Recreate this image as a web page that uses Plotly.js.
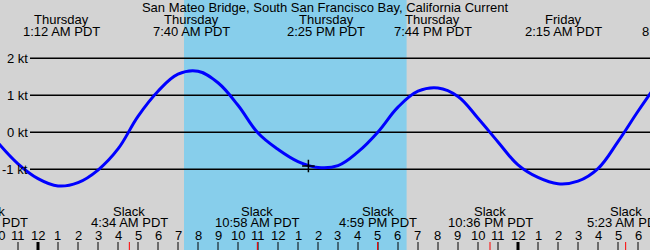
<!DOCTYPE html>
<html>
<head>
<meta charset="utf-8">
<script src="https://cdn.plot.ly/plotly-3.0.1.min.js"></script>
<style>html,body{margin:0;padding:0;background:#d3d3d3;}#chart{width:650px;height:250px;}</style>
</head>
<body>
<div id="chart"></div>
<script>
// Hours are measured from Thursday 00:00 PDT
const curveHours = [-2,-1,0,1,2,3,4,5,6,7,8,9,10,11,12,13,14,15,16,17,18,19,20,21,22,23,24,25,26,27,28,29,30,31];
const curveKnots = [-0.28,-0.85,-1.25,-1.45,-1.36,-1.02,-0.45,0.43,1.11,1.57,1.65,1.34,0.73,-0.02,-0.46,-0.79,-0.95,-0.90,-0.53,0.01,0.68,1.11,1.20,0.97,0.38,-0.26,-0.88,-1.22,-1.39,-1.32,-0.98,-0.25,0.57,1.35];

const extremeTimes = [1.2, 7.667, 14.417, 19.733, 26.25, 32.1];
const extremeDays = ["Thursday","Thursday","Thursday","Thursday","Friday","Friday"];
const extremeLabels = ["1:12 AM PDT","7:40 AM PDT","2:25 PM PDT","7:44 PM PDT","2:15 AM PDT","8:06 AM PDT"];

const slackTimes = [-2.43, 4.567, 10.967, 16.983, 22.6, 29.383];
const slackLabels = ["9:34 PM PDT","4:34 AM PDT","10:58 AM PDT","4:59 PM PDT","10:36 PM PDT","5:23 AM PDT"];

const hourTicks = [-2,-1,0,1,2,3,4,5,6,7,8,9,10,11,12,13,14,15,16,17,18,19,20,21,22,23,24,25,26,27,28,29,30,31];
const hourLabels = ["10","11","12","1","2","3","4","5","6","7","8","9","10","11","12","1","2","3","4","5","6","7","8","9","10","11","12","1","2","3","4","5","6","7"];
const midnights = [0, 24];

const ktLevels = [2, 1, 0, -1];
const ktLabels = ["2 kt","1 kt","0 kt","-1 kt"];

const daylight = [7.3, 18.43];   // sunrise, sunset
const nowTime = [13.52];
const nowValue = [-0.91];

const titleText = "San Mateo Bridge, South San Francisco Bay, California Current";

// ---- layout constants ----
const W = 650, H = 250;
const xr = [-1.9, 30.6];
const yr = [-3.181, 3.576];
const FONT = "Liberation Sans, Arial, sans-serif";
const FS = 13;
const fx = h => (h - xr[0]) / (xr[1] - xr[0]);
const fy = py => 1 - py / H;

const shapes = [];
shapes.push({type:'rect', xref:'x', yref:'paper', x0:daylight[0], x1:daylight[1], y0:0, y1:1,
  fillcolor:'#87ceeb', line:{width:0}, layer:'below'});
ktLevels.forEach(v => shapes.push({type:'line', xref:'paper', yref:'y', x0:30/W, x1:1, y0:v, y1:v,
  line:{color:'#000', width:1.5}, layer:'below'}));
hourTicks.forEach(h => shapes.push({type:'line', xref:'x', yref:'paper', x0:h, x1:h, y0:0, y1:8/H,
  line:{color:'#000', width:1}}));
midnights.forEach(h => shapes.push({type:'line', xref:'x', yref:'paper', x0:h, x1:h, y0:0, y1:8/H,
  line:{color:'#000', width:3}}));
slackTimes.forEach(h => shapes.push({type:'line', xref:'x', yref:'paper', x0:h, x1:h, y0:0, y1:8/H,
  line:{color:'#ff0000', width:1}}));

const ann = [];
const txt = (x, py, text, xanchor) => ({xref:'paper', yref:'paper', x:x, y:fy(py), text:text,
  showarrow:false, xanchor:xanchor||'center', yanchor:'middle', borderpad:0,
  font:{family:FONT, size:FS, color:'#000'}});
extremeTimes.forEach((h,i) => {
  ann.push(txt(fx(h), 19.5, extremeDays[i]));
  ann.push(txt(fx(h), 31, extremeLabels[i]));
});
slackTimes.forEach((h,i) => {
  ann.push(txt(fx(h), 211, "Slack"));
  ann.push(txt(fx(h), 222.5, slackLabels[i]));
});
hourTicks.forEach((h,i) => ann.push(txt(fx(h), 235, hourLabels[i])));
ktLevels.forEach((v,i) => ann.push({xref:'paper', yref:'y', x:28.5/W, y:v, text:ktLabels[i], showarrow:false,
  xanchor:'right', yanchor:'middle', borderpad:0, font:{family:FONT, size:FS, color:'#000'}}));

const traces = [
  {x:curveHours, y:curveKnots, type:'scatter', mode:'lines', line:{color:'#0000ff', width:3, shape:'spline', smoothing:1.1}, hoverinfo:'skip'},
  {x:nowTime, y:nowValue, type:'scatter', mode:'markers', marker:{symbol:'cross-thin', size:9, line:{color:'#000', width:1.5}}, hoverinfo:'skip'}
];

const layout = {
  width:W, height:H, margin:{l:0, r:0, t:0, b:0},
  paper_bgcolor:'#d3d3d3', plot_bgcolor:'#d3d3d3',
  showlegend:false,
  title:{text:titleText, font:{family:FONT, size:FS, color:'#000'}, x:0.5, xanchor:'center', y:fy(7.5), yanchor:'middle', yref:'container'},
  xaxis:{range:xr, visible:false, fixedrange:true},
  yaxis:{range:yr, visible:false, fixedrange:true},
  shapes:shapes, annotations:ann
};

Plotly.newPlot('chart', traces, layout, {staticPlot:true, displayModeBar:false});
</script>
</body>
</html>
